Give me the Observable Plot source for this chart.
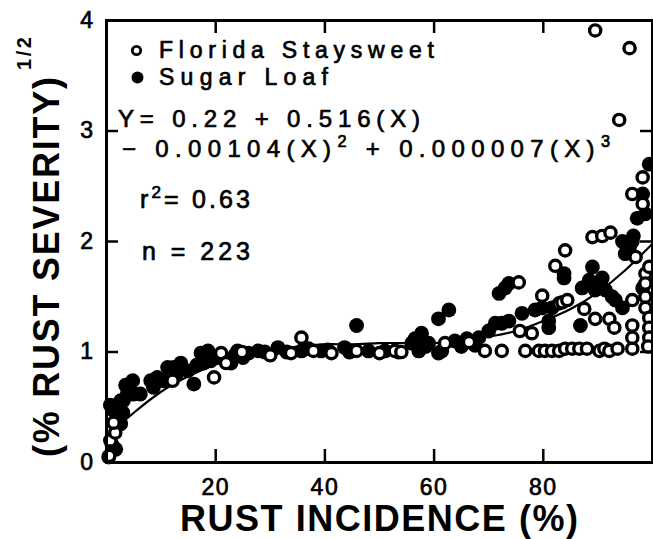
<!DOCTYPE html>
<html>
<head>
<meta charset="utf-8">
<script src="https://cdn.jsdelivr.net/npm/d3@7"></script>
<script src="https://cdn.jsdelivr.net/npm/@observablehq/plot@0.6"></script>
<style>
  html, body { margin: 0; padding: 0; background: #fff; }
  #chart svg { display: block; }
</style>
</head>
<body>
<div id="chart"></div>
<script>
// ---- data ----
const xTicks = [20, 40, 60, 80];
const yTicks = [0, 1, 2, 3, 4];
const seriesNames = ["Florida Staysweet", "Sugar Loaf"];
const xTitle = "RUST INCIDENCE (%)";
const yTitle = "(% RUST SEVERITY)";
const yTitleExp = "1/2";
const eqLine1 = [["Y= 0.22 + 0.516(X)", false]];
const eqLine2 = [["\u2212 0.00104(X)", false], ["2", true], [" + 0.000007(X)", false], ["3", true]];
const r2Text = [["r", false], ["2", true], ["= 0.63", false]];
const nText = [["n = 223", false]];

// Florida Staysweet (open circles)
const fsX = [0.5,0.7,1.6,1.3,12.1,19.7,21.0,21.9,24.8,30.0,33.8,35.7,37.9,41.2,45.8,50.0,52.8,54.0,62.0,66.4,
  69.3,72.4,75.5,75.7,77.9,76.7,79.2,80.3,81.6,82.9,84.0,85.3,86.6,88.0,90.3,91.2,92.1,93.6,96.3,79.8,
  82.2,84.0,82.9,83.5,84.4,87.5,89.5,92.1,93.0,96.3,96.3,96.3,98.7,98.7,98.7,98.7,99.4,99.4,99.4,99.2,
  96.9,89.0,90.8,92.3,98.2,96.3,98.2,99.4,89.5,95.8,93.9];
const fsY = [0.06,0.20,0.27,0.36,0.74,0.77,0.99,0.90,1.00,0.97,0.99,1.13,1.01,0.99,1.01,0.99,1.01,1.00,1.08,1.09,
  1.01,1.01,1.63,1.19,1.17,1.01,1.01,1.01,1.01,1.01,1.03,1.03,1.03,1.03,1.01,1.03,1.01,1.03,1.03,1.51,
  1.78,1.92,1.44,1.45,1.47,1.39,1.30,1.30,1.22,1.24,1.13,1.47,1.71,1.62,1.50,1.40,1.31,1.22,1.13,1.05,
  1.86,2.04,2.05,2.08,2.58,2.43,2.34,1.77,3.91,3.75,3.10];

// Sugar Loaf (filled circles)
const slX = [0.4,1.7,1.0,2.6,1.3,0.7,3.1,2.6,4.4,3.8,5.0,6.2,3.5,4.8,2.0,3.0,8.1,9.3,10.5,8.6,
  11.2,12.3,13.6,14.9,12.8,16.0,16.5,17.3,17.8,19.1,18.6,20.2,22.8,23.5,24.0,25.0,26.0,27.8,
  29.0,31.4,33.0,35.7,37.0,39.3,40.5,43.6,44.5,45.8,48.0,51.0,53.5,55.9,57.2,57.7,56.5,58.5,59.0,60.8,61.4,60.8,62.7,63.8,65.0,
  66.0,67.5,68.2,70.0,71.2,72.4,73.7,71.9,73.0,73.7,76.1,78.5,79.8,81.6,81.0,81.0,83.8,83.8,86.8,89.0,90.8,88.4,87.1,89.5,91.4,
  92.6,93.2,94.5,94.5,95.8,96.3,95.0,96.5,97.2,98.7,98.2,99.4,98.2,90.0];
const slY = [0.05,0.12,0.16,0.35,0.47,0.52,0.56,0.56,0.62,0.62,0.62,0.62,0.70,0.74,0.45,0.45,0.74,0.77,0.74,0.68,
  0.86,0.86,0.90,0.83,0.80,0.71,0.88,0.99,0.90,0.92,1.01,0.95,0.90,0.97,1.01,0.95,0.99,1.01,
  1.00,1.04,1.00,1.01,1.03,1.01,1.02,1.04,1.00,1.24,1.01,1.01,1.00,1.08,1.01,1.17,1.12,1.05,1.08,0.99,1.01,1.30,1.38,1.10,1.05,
  1.12,1.06,1.13,1.19,1.26,1.26,1.28,1.53,1.58,1.62,1.35,1.38,1.40,1.40,1.28,1.22,1.67,1.71,1.24,1.77,1.67,1.65,1.58,1.56,1.56,
  1.50,1.47,1.40,2.00,1.95,2.00,1.89,2.05,2.21,2.25,2.43,2.70,1.58,1.62];

// fitted curve
const curveX = [0,2,5,10,15,20,25,30,35,40,45,50,55,60,65,70,75,80,85,90,95,100];
const curveY = [0.22,0.32,0.45,0.64,0.78,0.89,0.97,1.02,1.05,1.07,1.07,1.08,1.08,1.08,1.10,1.14,1.19,1.28,1.39,1.54,1.74,1.98];

const fs = fsX.map((x, i) => ({x, y: fsY[i]}));
const sl = slX.map((x, i) => ({x, y: slY[i]}));
const curve = curveX.map((x, i) => ({x, y: curveY[i]}));

const FONT = "'Liberation Sans', Arial, Helvetica, sans-serif";
const W = 653, H = 539, mL = 106, mR = 1, mT = 20, mB = 77;
const fw = W - mL - mR, fh = H - mT - mB;

const chart = Plot.plot({
  width: W, height: H,
  marginLeft: mL, marginRight: mR, marginTop: mT, marginBottom: mB,
  x: {domain: [0, 100]},
  y: {domain: [0, 4]},
  style: {fontFamily: FONT, background: "white", color: "black"},
  marks: [
    Plot.line(curve, {x: "x", y: "y", stroke: "black", strokeWidth: 2.2, curve: "natural"}),
    Plot.dot(sl, {x: "x", y: "y", r: 7.4, fill: "black", stroke: "none"}),
    Plot.dot(fs, {x: "x", y: "y", r: 5.6, fill: "white", stroke: "black", strokeWidth: 3.4}),
    Plot.frame({stroke: "black", strokeWidth: 3}),
    // inward ticks
    Plot.tickX(xTicks, {x: d => d, stroke: "black", strokeWidth: 2.5, insetTop: fh - 13}),
    Plot.tickX(xTicks, {x: d => d, stroke: "black", strokeWidth: 2.5, insetBottom: fh - 13}),
    Plot.tickY(yTicks.slice(1, 4), {y: d => d, stroke: "black", strokeWidth: 2.5, insetRight: fw - 12}),
    Plot.tickY(yTicks.slice(1, 4), {y: d => d, stroke: "black", strokeWidth: 2.5, insetLeft: fw - 12}),
    Plot.axisX({ticks: xTicks, tickFormat: d => String(d), tickSize: 0, tickPadding: 16, fontSize: 23, label: null}),
    Plot.axisY({ticks: yTicks, tickFormat: d => String(d), tickSize: 0, tickPadding: 12, fontSize: 23, label: null}),
    // legend markers
    Plot.dot([seriesNames[0]], {frameAnchor: "top-left", dx: 30, dy: 30, r: 4.2, fill: "white", stroke: "black", strokeWidth: 2.8}),
    Plot.dot([seriesNames[1]], {frameAnchor: "top-left", dx: 31, dy: 57, r: 6, fill: "black"})
  ]
});
document.getElementById("chart").appendChild(chart);

const svg = d3.select(chart);
// thicken tick labels
svg.selectAll('g[aria-label="x-axis tick label"] text, g[aria-label="y-axis tick label"] text')
  .attr("stroke", "black").attr("stroke-width", 0.7).style("letter-spacing", "1.5px");

function addText(parts, x, y, opts = {}) {
  const size = opts.size || 23;
  const t = svg.append("text")
    .attr("x", x).attr("y", y)
    .attr("font-family", FONT)
    .attr("font-size", size)
    .attr("font-weight", opts.weight || "normal")
    .attr("fill", "black")
    .attr("text-anchor", opts.anchor || "start");
  if (typeof parts === "string") parts = [[parts, false]];
  let raised = false;
  for (const [str, sup] of parts) {
    const s = t.append("tspan").text(str);
    if (sup && !raised) { s.attr("dy", -0.42 * size).attr("font-size", size * 0.68); raised = true; }
    else if (!sup && raised) { s.attr("dy", 0.42 * size); raised = false; }
    else if (sup) s.attr("font-size", size * 0.68);
  }
  if (opts.len) t.attr("textLength", opts.len).attr("lengthAdjust", "spacing");
  if (opts.thick) t.attr("stroke", "black").attr("stroke-width", opts.thick);
  if (opts.transform) t.attr("transform", opts.transform);
  return t;
}

// legend text
addText(seriesNames[0], 159, 58, {size: 23, len: 275, thick: 0.7});
addText(seriesNames[1], 159, 85, {size: 23, len: 169, thick: 0.7});
// equation and stats
addText(eqLine1, 118, 127, {size: 24, len: 302, thick: 0.7});
addText(eqLine2, 122, 157, {size: 24, len: 488, thick: 0.7});
addText(r2Text, 140, 208, {size: 25, len: 110, thick: 0.7});
addText(nText, 142, 260, {size: 25, len: 108, thick: 0.7});

// axis titles
addText(xTitle, 379, 531, {size: 36, weight: "bold", anchor: "middle", len: 398});
addText(yTitle, 0, 0, {size: 36, weight: "bold", anchor: "middle", len: 380,
  transform: "translate(59,267) rotate(-90)"});
addText(yTitleExp, 0, 0, {size: 20, weight: "bold", anchor: "middle", len: 33,
  transform: "translate(31,53.5) rotate(-90)"});
</script>
</body>
</html>
